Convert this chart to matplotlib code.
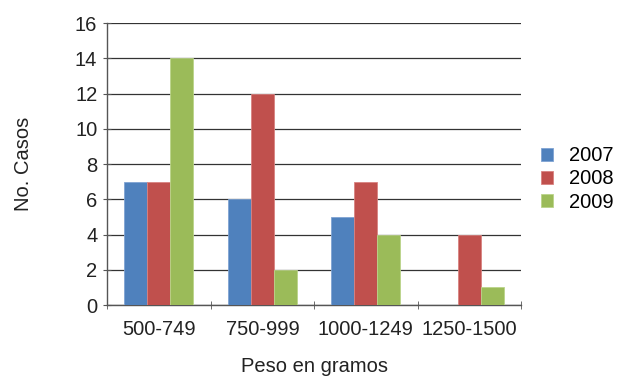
import matplotlib
matplotlib.use("Agg")
import matplotlib.pyplot as plt
import numpy as np

plt.rcParams["font.family"] = ["Liberation Sans", "DejaVu Sans"]

categories = ["500-749", "750-999", "1000-1249", "1250-1500"]
years = ["2007", "2008", "2009"]
cases_2007 = [7, 6, 5, 0]
cases_2008 = [7, 12, 7, 4]
cases_2009 = [14, 2, 4, 1]

colors = ["#4F81BD", "#C0504D", "#9BBB59"]
edges = ["#7FA3D3", "#D98280", "#BBD48A"]
FS = 14.5

fig = plt.figure(figsize=(6.19, 3.78), dpi=100)
ax = fig.add_axes([0.173, 0.193, 0.669, 0.746])

x = np.arange(len(categories))
width = 0.222
for i, (vals, label) in enumerate(zip([cases_2007, cases_2008, cases_2009], years)):
    ax.bar(x + (i - 1) * width, vals, width, color=colors[i], edgecolor=edges[i],
           linewidth=0.6, label=label, zorder=3)

ax.set_xlim(-0.5, len(categories) - 0.5)
ax.set_ylim(0, 16)
ax.set_yticks(range(0, 17, 2))
ax.yaxis.grid(True, color="#333333", linewidth=0.9, zorder=0)

ax.set_xticks(x)
ax.set_xticklabels(categories)
ax.set_xticks(np.arange(-0.5, len(categories)), minor=True)
ax.tick_params(axis="x", which="major", length=0, pad=11, labelsize=FS, colors="#222222")
ax.tick_params(axis="x", which="minor", length=6, direction="inout", color="#555555")
ax.tick_params(axis="y", length=6, direction="inout", labelsize=FS, color="#555555",
               labelcolor="#222222", pad=4)

for side in ["top", "right"]:
    ax.spines[side].set_visible(False)
for side in ["left", "bottom"]:
    ax.spines[side].set_color("#555555")
    ax.spines[side].set_linewidth(1.0)

ax.set_ylabel("No. Casos", fontsize=FS, color="#222222", labelpad=30)
ax.set_xlabel("Peso en gramos", fontsize=FS, color="#222222", labelpad=13)

ax.legend(loc="center left", bbox_to_anchor=(541 / 619, 1 - 179 / 378),
          bbox_transform=fig.transFigure, frameon=False, fontsize=FS,
          handlelength=0.6, handleheight=0.6, handletextpad=0.8, labelspacing=0.2,
          borderpad=0, borderaxespad=0)

fig.savefig("out.png", dpi=100)
